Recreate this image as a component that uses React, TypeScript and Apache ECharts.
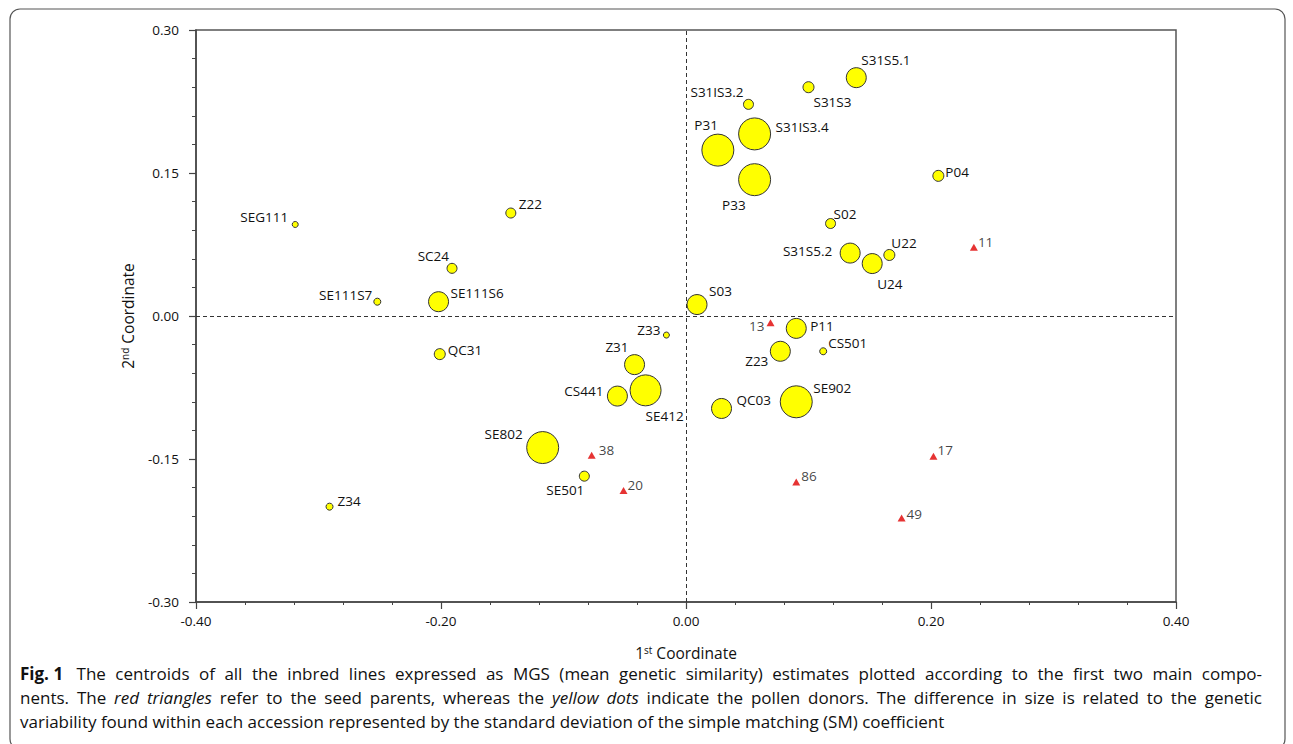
import React, { useEffect, useRef } from 'react';
import * as echarts from 'echarts';

// Pollen donors (yellow dots)
const donorNames = ['SEG111', 'SE111S7', 'SE111S6', 'SC24', 'Z22', 'QC31', 'Z34', 'Z33', 'Z31', 'SE412', 'CS441', 'SE802', 'SE501', 'S03', 'S31IS3.2', 'P31', 'S31IS3.4', 'P33', 'S31S3', 'S31S5.1', 'S02', 'S31S5.2', 'U24', 'U22', 'P04', 'P11', 'CS501', 'Z23', 'SE902', 'QC03'];
const donorX = [-0.319, -0.252, -0.202, -0.191, -0.143, -0.201, -0.291, -0.016, -0.042, -0.033, -0.056, -0.117, -0.083, 0.009, 0.051, 0.026, 0.056, 0.056, 0.100, 0.139, 0.118, 0.134, 0.152, 0.166, 0.206, 0.090, 0.112, 0.077, 0.090, 0.029];
const donorY = [0.096, 0.015, 0.015, 0.050, 0.108, -0.040, -0.200, -0.020, -0.051, -0.078, -0.084, -0.138, -0.168, 0.012, 0.222, 0.174, 0.191, 0.143, 0.240, 0.250, 0.097, 0.066, 0.055, 0.064, 0.147, -0.013, -0.037, -0.037, -0.090, -0.097];
// standard deviation of the SM coefficient (relative dot size)
const donorSD = [0.006, 0.007, 0.020, 0.010, 0.010, 0.011, 0.007, 0.006, 0.020, 0.031, 0.020, 0.032, 0.010, 0.020, 0.010, 0.032, 0.032, 0.032, 0.011, 0.020, 0.010, 0.020, 0.020, 0.011, 0.011, 0.020, 0.007, 0.020, 0.032, 0.020];

// Seed parents (red triangles)
const parentNames = ['11', '13', '38', '20', '86', '17', '49'];
const parentX = [0.235, 0.069, -0.077, -0.051, 0.090, 0.202, 0.176];
const parentY = [0.072, -0.007, -0.146, -0.183, -0.174, -0.147, -0.212];

const xTickValues = [-0.4, -0.2, 0, 0.2, 0.4];
const yTickValues = [-0.3, -0.15, 0, 0.15, 0.3];

// label placement: [align, dx, dy] relative to the marker centre
const labelPlace: Record<string, [string, number, number]> = {
  'SEG111': ['right', -7, -7], 'SE111S7': ['right', -5, -7], 'SE111S6': ['left', 12, -9],
  'SC24': ['right', -3, -12], 'Z22': ['left', 8, -9], 'QC31': ['left', 8, -4],
  'Z34': ['left', 8, -6], 'Z33': ['right', -6, -5], 'Z31': ['right', -6, -18],
  'SE412': ['left', 0, 26], 'CS441': ['right', -14, -5], 'SE802': ['right', -20, -14],
  'SE501': ['right', 0, 14], 'S03': ['left', 12, -14], 'S31IS3.2': ['right', -5, -12],
  'P31': ['right', 0, -25], 'S31IS3.4': ['left', 21, -7], 'P33': ['right', -9, 25],
  'S31S3': ['left', 5, 15], 'S31S5.1': ['left', 5, -18], 'S02': ['left', 3, -10],
  'S31S5.2': ['right', -18, -2], 'U24': ['left', 5, 20], 'U22': ['left', 2, -12],
  'P04': ['left', 7, -4], 'P11': ['left', 14, -2], 'CS501': ['left', 5, -8],
  'Z23': ['right', -12, 10], 'SE902': ['left', 17, -14], 'QC03': ['left', 15, -8],
  '11': ['left', 4, -5], '13': ['right', -6, 3], '38': ['left', 7, -5], '20': ['left', 4, -5],
  '86': ['left', 5, -6], '17': ['left', 4, -6], '49': ['left', 5, -4],
};

type Seg = [string, string]; // [style, text]
const captionLines: Seg[][] = [
  [['b', 'Fig. 1'], ['n', 'The centroids of all the inbred lines expressed as MGS (mean genetic similarity) estimates plotted according to the first two main compo-']],
  [['n', 'nents. The'], ['i', 'red triangles'], ['n', 'refer to the seed parents, whereas the'], ['i', 'yellow dots'], ['n', 'indicate the pollen donors. The difference in size is related to the genetic']],
  [['n', 'variability found within each accession represented by the standard deviation of the simple matching (SM) coefficient']],
];

const FONT = '"Open Sans", "Noto Sans", sans-serif';
const CAP_FONT = '"Open Sans", "Noto Sans", sans-serif';
const CAP_SIZE = 17;

function buildCaption(): any[] {
  const canvas = document.createElement('canvas');
  const ctx = canvas.getContext('2d')!;
  const fontOf = (s: string) => `${s === 'i' ? 'italic ' : ''}${s === 'b' ? 'bold ' : ''}${CAP_SIZE}px ${CAP_FONT}`;
  const left = 20, right = 1262;
  const lineY = [673, 697, 721];
  const out: any[] = [];
  captionLines.forEach((line, li) => {
    const tokens: { t: string; s: string; w: number; extra: number }[] = [];
    line.forEach(([s, text]) => {
      const words = s === 'b' ? [text] : text.split(' ');
      words.forEach((w) => {
        ctx.font = fontOf(s);
        tokens.push({ t: w, s, w: ctx.measureText(w).width, extra: s === 'b' ? 4 : 0 });
      });
    });
    ctx.font = fontOf('n');
    const spaceW = ctx.measureText(' ').width;
    const sumW = tokens.reduce((a, k) => a + k.w + k.extra, 0);
    const justify = li < captionLines.length - 1;
    const gap = justify ? (right - left - sumW) / (tokens.length - 1) : spaceW;
    let x = left;
    tokens.forEach((k) => {
      out.push({
        type: 'text', x, y: lineY[li], silent: true,
        style: {
          text: k.t, fill: '#111', fontSize: CAP_SIZE, fontFamily: CAP_FONT,
          fontWeight: k.s === 'b' ? 'bold' : 'normal', fontStyle: k.s === 'i' ? 'italic' : 'normal',
          verticalAlign: 'middle', align: 'left',
        },
      });
      x += k.w + k.extra + gap;
    });
  });
  return out;
}

const fmt = (v: number) => (Math.abs(v) < 1e-9 ? '0.00' : v.toFixed(2));

export default function App() {
  const ref = useRef<HTMLDivElement>(null);
  useEffect(() => {
    const chart = echarts.init(ref.current!, null, { renderer: 'svg' });
    const mkLabel = (name: string) => {
      const p = labelPlace[name];
      return {
        show: true, position: 'inside', align: p[0], verticalAlign: 'middle', offset: [p[1], p[2]],
        color: '#111', textBorderWidth: 0, textBorderColor: 'transparent',
      };
    };
    const donorData = donorNames.map((n, i) => ({ name: n, value: [donorX[i], donorY[i], donorSD[i]], label: mkLabel(n) }));
    const parentData = parentNames.map((n, i) => ({ name: n, value: [parentX[i], parentY[i]], label: mkLabel(n) }));
    const labelStyle = { formatter: '{b}', color: '#111', fontSize: 13.5, fontFamily: FONT, textBorderWidth: 0, textBorderColor: 'transparent' };
    const titleStyle = { color: '#111', fontSize: 15.5, fontFamily: FONT, rich: { sup: { fontSize: 10, verticalAlign: 'top', color: '#111', fontFamily: FONT, padding: [0, 0, 6, 0] } } };
    chart.setOption({
      animation: false,
      grid: { left: 196, top: 30, width: 980, height: 572, show: true, borderColor: '#555', borderWidth: 1.5, backgroundColor: 'transparent' },
      xAxis: {
        type: 'value', min: xTickValues[0], max: xTickValues[xTickValues.length - 1], interval: 0.2,
        axisLine: { onZero: false, lineStyle: { color: '#444', width: 1.5 } },
        axisTick: { show: true, inside: false, length: 7, lineStyle: { color: '#444', width: 1.2 } },
        minorTick: { show: true, splitNumber: 5, length: 3, lineStyle: { color: '#444', width: 1 } },
        splitLine: { show: false },
        axisLabel: { formatter: fmt, color: '#111', fontSize: 13.5, fontFamily: FONT, margin: 12 },
        name: '1{sup|st} Coordinate', nameLocation: 'middle', nameGap: 43,
        nameTextStyle: titleStyle,
      },
      yAxis: {
        type: 'value', min: yTickValues[0], max: yTickValues[yTickValues.length - 1], interval: 0.15,
        axisLine: { onZero: false, lineStyle: { color: '#444', width: 1.5 } },
        axisTick: { show: true, inside: false, length: 7, lineStyle: { color: '#444', width: 1.2 } },
        minorTick: { show: true, splitNumber: 5, length: 4, lineStyle: { color: '#444', width: 1 } },
        splitLine: { show: false },
        axisLabel: { formatter: fmt, color: '#111', fontSize: 13.5, fontFamily: FONT, margin: 17 },
        name: '2{sup|nd} Coordinate', nameLocation: 'middle', nameGap: 60,
        nameTextStyle: titleStyle,
      },
      graphic: [
        { type: 'rect', shape: { x: 10, y: 9, width: 1275, height: 740, r: 10 }, style: { fill: 'none', stroke: '#555', lineWidth: 1.2 }, silent: true, z: -10 },
        ...buildCaption(),
      ],
      series: [
        {
          type: 'scatter', name: 'pollen donors', data: donorData,
          symbol: 'circle', symbolSize: (v: number[]) => v[2] * 1000,
          itemStyle: { color: '#ffff00', borderColor: '#333', borderWidth: 1, opacity: 1 },
          label: labelStyle,
          emphasis: { disabled: true },
          markLine: {
            silent: true, symbol: ['none', 'none'], label: { show: false },
            lineStyle: { type: [4, 3], color: '#333', width: 1 },
            data: [{ xAxis: 0 }, { yAxis: 0 }],
          },
          z: 3,
        },
        {
          type: 'scatter', name: 'seed parents', data: parentData,
          symbol: 'triangle', symbolSize: [8, 7],
          itemStyle: { color: '#e00000' },
          label: labelStyle,
          emphasis: { disabled: true },
          z: 4,
        },
      ],
    });
    return () => chart.dispose();
  }, []);
  return <div ref={ref} style={{ position: 'absolute', left: 0, top: 0, width: 1293, height: 744, background: '#fff' }} />;
}
